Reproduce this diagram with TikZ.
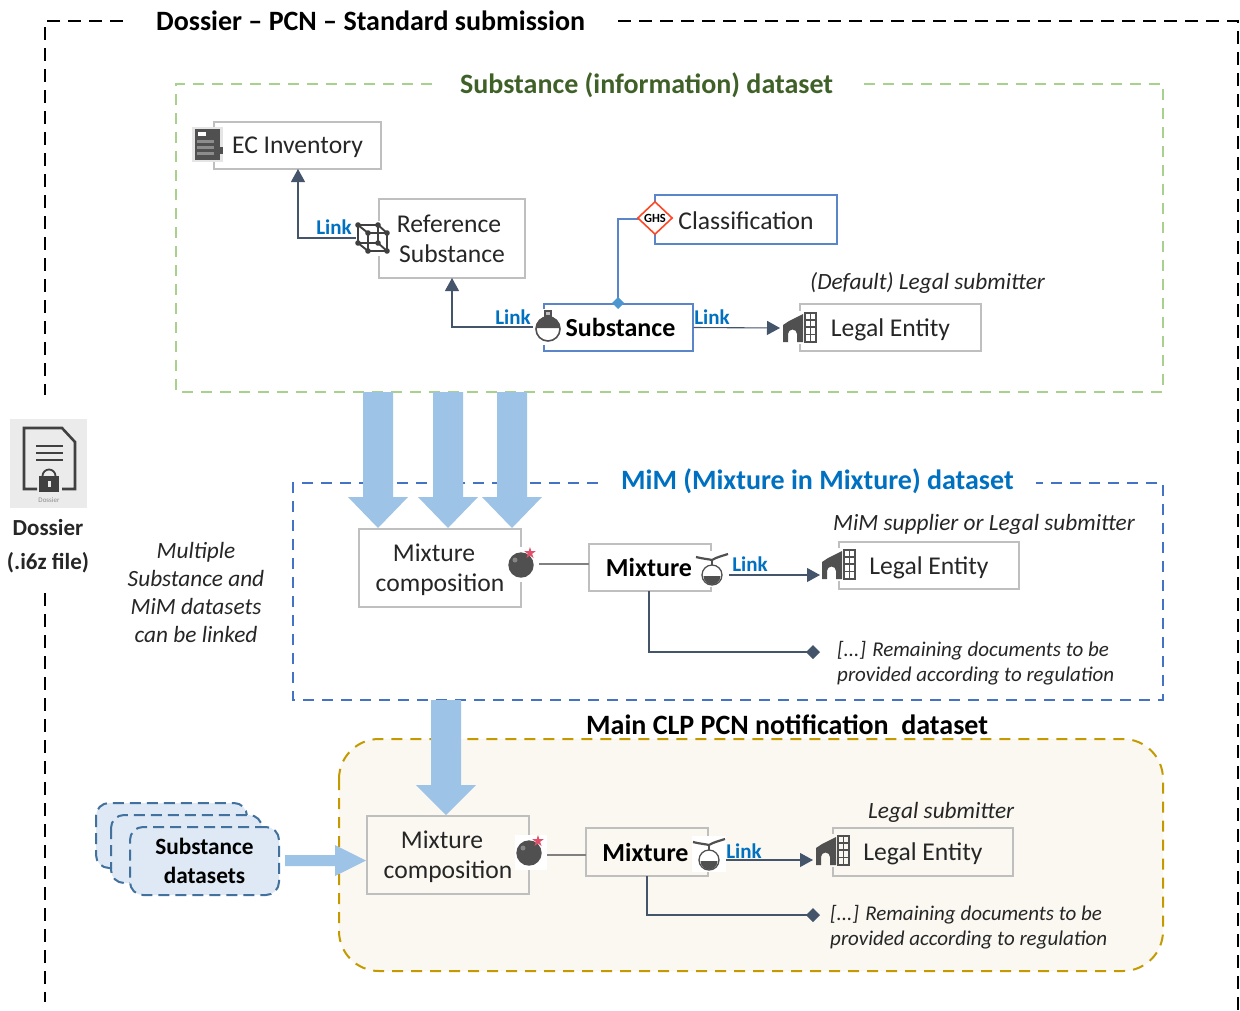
\documentclass[tikz,border=0pt]{standalone}
\usepackage{fontspec}
\setmainfont{Carlito}
\usetikzlibrary{arrows.meta,calc,shapes.geometric}
\definecolor{boxgray}{HTML}{BFBFBF}
\definecolor{boxblue}{HTML}{5B85C9}
\definecolor{linkblue}{HTML}{0070C0}
\definecolor{conn}{HTML}{44546A}
\definecolor{iconc}{HTML}{505050}
\definecolor{arrowblue}{HTML}{9DC3E6}
\definecolor{greent}{HTML}{3F6128}
\definecolor{greend}{HTML}{A9D18E}
\definecolor{blued}{HTML}{4472C4}
\definecolor{goldd}{HTML}{C49A00}
\definecolor{creamf}{HTML}{FBF8F2}
\definecolor{stackf}{HTML}{DEE9F5}
\definecolor{stackd}{HTML}{41719C}
\definecolor{starc}{HTML}{E0506A}
\newcommand{\lowered}[2][2pt]{\raisebox{-#1}[\height][\depth]{#2}}
\tikzset{
 pbox/.style={draw=boxgray,line width=1.2pt,fill=white,inner sep=0pt,text=black!85,align=center,font=\fontsize{25.6}{30}\selectfont},
 boldbox/.style={font=\fontsize{26}{26}\selectfont\bfseries,text=black},
 bluebox/.style={pbox,draw=boxblue},
 linktext/.style={text=linkblue,font=\fontsize{21}{21}\selectfont\bfseries,inner sep=0pt},
 conline/.style={draw=conn,line width=1.1pt},
 conarrow/.style={conline,-{Triangle[length=13pt,width=14pt,fill=conn]}},
 title/.style={font=\fontsize{28}{28}\selectfont\bfseries,inner sep=0pt,anchor=west},
 note/.style={font=\fontsize{23.3}{28}\selectfont\itshape,inner sep=0pt,text=black!85,align=left},
 small note/.style={font=\fontsize{21}{24.5}\selectfont\itshape},
 dashbox/.style={line width=2pt,dash pattern=on 11pt off 8pt},
 framedash/.style={line width=2.2pt,dash pattern=on 13pt off 8pt},
 bigarrow/.style={fill=arrowblue,draw=none},
 stack/.style={draw=stackd,fill=stackf,line width=2pt,dash pattern=on 11pt off 6pt,rounded corners=13pt},
 grayline/.style={draw=black!50,line width=1.1pt},
}
\newcommand{\flaskicon}{%
 \draw[iconc,line width=1.6pt,fill=white] (0,1) circle (12);
 \fill[iconc] (-12,0) arc[start angle=180,end angle=360,radius=12] -- cycle;
 \fill[iconc] (-4,-18) rectangle (4,-8);
 \fill[black!25] (-2,-16) rectangle (2,-13);
}
\newcommand{\smallflask}{%
 \fill[white] (-17,-17) rectangle (17,19);
 \draw[iconc,line width=2.2pt] (-16,-11) .. controls (-8,-9) and (-4,-9) .. (0,-8) .. controls (5,-11) and (10,-12) .. (16,-14);
 \draw[iconc,line width=1.8pt] (0,-9) -- (0,-2);
 \draw[iconc,line width=1.3pt,fill=white] (0,7) circle (10);
 \fill[iconc] (-8.5,8) arc[start angle=180,end angle=0,radius=8.5] -- cycle;
}
\newcommand{\buildingicon}{%
 \fill[iconc] (0,29) -- (0,12) -- (6,8) -- (20,1) -- (20,29) -- (14,29) -- (14,21) arc[start angle=0,end angle=-180,radius=4.5] -- (5,29) -- cycle;
 \draw[iconc,line width=1.7pt] (22,0) rectangle (33,29);
 \draw[iconc,line width=1.3pt] (27.5,0) -- (27.5,29) (22,7) -- (33,7) (22,14) -- (33,14) (22,21.5) -- (33,21.5);
}
\newcommand{\bombicon}{%
 \fill[white] (-14,-17) rectangle (18,18);
 \fill[iconc] (0,1) circle (12.7);
 \fill[iconc!70!white] (-6,-4) circle (2.5);
 \fill[starc] (9,-17) -- (10.3,-12.8) -- (14.7,-12.8) -- (11.1,-10.2) -- (12.5,-6) -- (9,-8.6) -- (5.5,-6) -- (6.9,-10.2) -- (3.3,-12.8) -- (7.7,-12.8) -- cycle;
}
\begin{document}
\begin{tikzpicture}[x=1pt,y=-1pt]
\useasboundingbox (0,0) rectangle (1240,1010);
\fill[white] (0,0) rectangle (1240,1010);
% outer frame
\coordinate (fa) at (123,21); \coordinate (fb) at (45,21); \coordinate (fc) at (45,395);
\coordinate (fd) at (45,593); \coordinate (fe) at (45,1002);
\coordinate (ff) at (618,21); \coordinate (fg) at (1238,21); \coordinate (fh) at (1238,1010);
\draw[black,framedash] (fa) -- (fb) -- (fc);
\draw[black,framedash] (fd) -- (fe);
\draw[black,framedash] (ff) -- (fg) -- (fh);
\node[title] (maintitle) at (156,21) {Dossier – PCN – Standard submission};
% green
\draw[greend,dashbox] (432,84) -- (176,84) -- (176,392) -- (1163,392) -- (1163,84) -- (860,84);
\node[title,text=greent] (subtitle) at (460,85) {Substance (information) dataset};
% yellow
\draw[goldd,fill=creamf,dashbox,rounded corners=40pt] (339,739) rectangle (1163,971);
\node[title] (clptitle) at (586,725) {Main CLP PCN notification\ \ dataset};
% blue
\draw[blued,dashbox] (598,483) -- (293,483) -- (293,700) -- (1163,700) -- (1163,483) -- (1036,483);
\node[title,text=linkblue] (mimtitle) at (621,481) {MiM (Mixture in Mixture) dataset};
% big arrows
\foreach \c in {378,448,512}{
 \fill[bigarrow] (\c-15,392) -- (\c+15,392) -- (\c+15,497) -- (\c+30,497) -- (\c,528) -- (\c-30,497) -- (\c-15,497) -- cycle;
}
\fill[bigarrow] (431,700) -- (461,700) -- (461,785) -- (476,785) -- (446,815) -- (416,785) -- (431,785) -- cycle;
\fill[bigarrow] (285,855) -- (335,855) -- (335,845) -- (366,860.5) -- (335,876) -- (335,866) -- (285,866) -- cycle;
% dossier icon
\fill[black!8] (10,419) rectangle (87,508);
\draw[black!75,line width=2.6pt,line join=miter] (37,489) -- (24,489) -- (24,428) -- (62,428) -- (75,442) -- (75,489) -- (62,489);
\draw[black!75,line width=1.6pt] (36,446) -- (63,446) (36,453) -- (63,453) (36,460) -- (63,460);
\fill[black!75] (39,476) rectangle (59,492);
\draw[black!75,line width=1.8pt] (42.5,476) arc[start angle=180,end angle=360,radius=6.5];
\fill[black!8] (47.5,481) rectangle (50.5,487);
\node[inner sep=0pt,text=black!45,font=\fontsize{7}{7}\selectfont] (dosssmall) at (49,500) {Dossier};
\node[inner sep=0pt,align=center,text=black!85,font=\fontsize{23}{34}\selectfont\bfseries] (dossier) at (48,546) {Dossier\\(.i6z file)};
% multi text
\node[note,align=center] (multi) at (196,592) {Multiple\\Substance and\\MiM datasets\\can be linked};
% stacks
\draw[stack] (96,803) rectangle (247,868);
\draw[stack] (111,815) rectangle (262,883);
\node[stack,minimum width=149pt,minimum height=68pt,inner sep=0pt,text=black,align=center,font=\fontsize{23.3}{28.5}\selectfont\bfseries] (stacks) at (204.5,861) {Substance\\datasets};
% nodes, upper
\node[pbox,minimum width=167pt,minimum height=47pt] (ec) at (297.5,145.5) {\lowered{EC Inventory}};
\node[pbox,minimum width=146pt,minimum height=79pt] (ref) at (452,238.5) {\hspace*{-6pt}Reference\\Substance};
\node[bluebox,boldbox,minimum width=149pt,minimum height=47pt] (sub) at (618.5,327.5) {\hspace*{4pt}Substance};
\node[bluebox,minimum width=182pt,minimum height=49pt] (cla) at (746,219.5) {\lowered[1pt]{Classification}};
\node[pbox,minimum width=181pt,minimum height=47pt] (le1) at (890.5,327.5) {\lowered{Legal Entity}};
% nodes, middle
\node[pbox,minimum width=162pt,minimum height=78pt] (mc1) at (440,568) {\hspace*{-12pt}\lowered[1.5pt]{Mixture}\\\lowered[1.5pt]{composition}};
\node[pbox,boldbox,minimum width=122pt,minimum height=47pt] (mx1) at (650,567.5) {\hspace*{-2pt}Mixture};
\node[pbox,minimum width=180pt,minimum height=47pt] (le2) at (929,565.5) {\lowered{Legal Entity}};
% nodes, lower
\node[pbox,fill=creamf,minimum width=162pt,minimum height=78pt] (mc2) at (448,855) {\hspace*{-12pt}\lowered[1.5pt]{Mixture}\\\lowered[1.5pt]{composition}};
\node[pbox,boldbox,fill=creamf,minimum width=122pt,minimum height=48pt] (mx2) at (647,852) {\hspace*{-3pt}Mixture};
\node[pbox,fill=creamf,minimum width=180pt,minimum height=48pt] (le3) at (923,852) {\lowered{Legal Entity}};
% free ends
\coordinate (ecin) at (298,169);
\coordinate (refin) at (452,278);
\coordinate (diam) at (618,303);
\coordinate (le1in) at (780,328);
\coordinate (le2in) at (820,575);
\coordinate (le3in) at (813,860);
\coordinate (d1) at (813,652);
\coordinate (d2) at (813,915);
\coordinate (mx1s) at (649,591);
\coordinate (mx2s) at (647,876);
\coordinate (mx1o) at (728,575);
\coordinate (mx2o) at (722,860);
\coordinate (refout) at (379,238);
\coordinate (subout) at (544,327);
\coordinate (claout) at (655,219);
\coordinate (c1a) at (521,564);
\coordinate (c1b) at (589,564);
\coordinate (c2a) at (529,855);
\coordinate (c2b) at (586,855);
% connectors
\draw[conarrow] (refout) -| (ecin);
\draw[conarrow] (subout) -| (refin);
\draw[draw=boxblue,line width=1.1pt] (diam) |- (claout);
\fill[boxblue!85!cyan] ($(diam)+(0,-6)$) -- ($(diam)+(6,0)$) -- ($(diam)+(0,6)$) -- ($(diam)+(-6,0)$) -- cycle;
\draw[conarrow] (sub.east) -- (le1in);
\draw[grayline] (c1a) -- (c1b);
\draw[conarrow] (mx1o) -- (le2in);
\draw[conline] (mx1s) |- (d1);
\fill[conn] ($(d1)+(0,-7)$) -- ($(d1)+(7,0)$) -- ($(d1)+(0,7)$) -- ($(d1)+(-7,0)$) -- cycle;
\draw[grayline] (c2a) -- (c2b);
\draw[conarrow] (mx2o) -- (le3in);
\draw[conline] (mx2s) |- (d2);
\fill[conn] ($(d2)+(0,-7)$) -- ($(d2)+(7,0)$) -- ($(d2)+(0,7)$) -- ($(d2)+(-7,0)$) -- cycle;
% icons
\begin{scope}[shift={(192,127)}]
 \fill[black!10] (0,0) rectangle (31,35);
 \fill[iconc] (3,2) rectangle (28,33);
 \fill[white] (6,5) rectangle (14,9);
 \foreach \y in {13,19,25} \fill[black!45] (5,\y) rectangle (22,\y+3);
 \fill[iconc] (27,20) rectangle (31,27);
\end{scope}
\begin{scope}[shift={(373,238)}]
 \fill[white] (-17,-17) rectangle (17,18);
 \draw[black!75,line width=1.9pt] (-15,-13) -- (5,-13) -- (14,-5) -- (14,13) -- (-5,13) -- (-15,5) -- cycle;
 \draw[black!75,line width=1.9pt] (-5,-5) -- (14,-5) (-5,-5) -- (-5,13) (-5,-5) -- (-15,-13) (5,-13) -- (5,5) (-15,5) -- (5,5) -- (14,13);
 \foreach \p in {(-15,-13),(5,-13),(14,-5),(14,13),(-5,13),(-15,5),(-5,-5),(5,5)} \fill[black!75] \p circle (2.8);
\end{scope}
\begin{scope}[shift={(548,328)}]
 \fill[white] (-15,-19) rectangle (15,17);
 \flaskicon
\end{scope}
\begin{scope}[shift={(783,313)}] \fill[white] (-2,-2) rectangle (35,31); \buildingicon \end{scope}
\begin{scope}[shift={(822,550)}] \fill[white] (-2,-2) rectangle (35,31); \buildingicon \end{scope}
\begin{scope}[shift={(816,836)}] \fill[creamf] (-2,-2) rectangle (35,31); \buildingicon \end{scope}
\begin{scope}[shift={(521,564)}] \bombicon \end{scope}
\begin{scope}[shift={(529,852)}] \bombicon \end{scope}
\begin{scope}[shift={(712,568)}] \smallflask \end{scope}
\begin{scope}[shift={(709,853)}] \smallflask \end{scope}
% GHS
\node[diamond,aspect=1.1,draw=red!70!orange!85!white,fill=white,line width=1.6pt,minimum width=35pt,minimum height=33pt,inner sep=0pt,font=\fontsize{12.5}{12.5}\selectfont\bfseries,text=black] (ghs) at (655,218) {GHS};
% links
\node[linktext] (l1) at (334,227) {Link};
\node[linktext] (l2) at (513,317) {Link};
\node[linktext] (l3) at (712,317) {Link};
\node[linktext] (l4) at (750,564) {Link};
\node[linktext] (l5) at (744,851) {Link};
% notes
\node[note,anchor=west] (n1) at (810,283) {(Default) Legal submitter};
\node[note,anchor=west] (n2) at (833,524) {MiM supplier or Legal submitter};
\node[note,anchor=west] (n3) at (868,812) {Legal submitter};
\node[note,small note,anchor=west] (n4) at (837,663) {[...] Remaining documents to be\\provided according to regulation};
\node[note,small note,anchor=west] (n5) at (830,927) {[...] Remaining documents to be\\provided according to regulation};
\end{tikzpicture}
\end{document}
